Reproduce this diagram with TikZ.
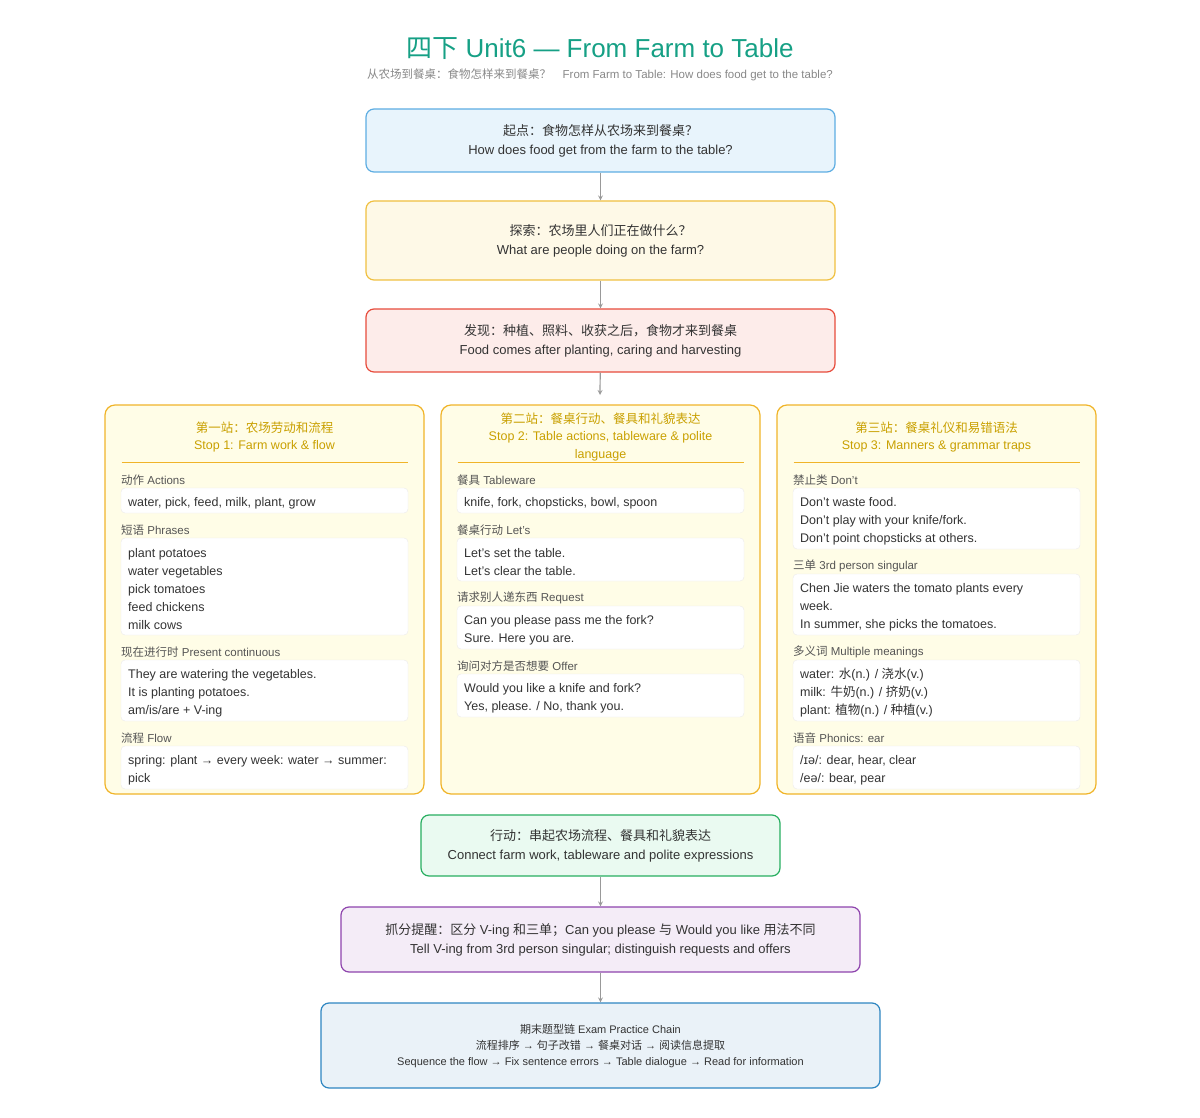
\documentclass[tikz,border=0pt]{standalone}
\usepackage{fontspec}
\setmainfont{Liberation Sans}
\newfontfamily\cjkfont{Noto Sans CJK SC}
\newcommand\zh[1]{{\cjkfont #1}}
\usetikzlibrary{positioning}
\definecolor{teal}{HTML}{16A085}
\definecolor{greytxt}{HTML}{888888}
\definecolor{inktxt}{HTML}{333333}
\definecolor{labtxt}{HTML}{555555}
\definecolor{gold}{HTML}{C9A000}
\definecolor{bluefill}{HTML}{E8F4FC}\definecolor{blueline}{HTML}{5DADE2}
\definecolor{yelfill}{HTML}{FEF9E7}\definecolor{yelline}{HTML}{F0C040}
\definecolor{redfill}{HTML}{FDECEA}\definecolor{redline}{HTML}{E74C3C}
\definecolor{colfill}{HTML}{FFFDE7}\definecolor{colline}{HTML}{F0B429}
\definecolor{grnfill}{HTML}{EAFAF1}\definecolor{grnline}{HTML}{27AE60}
\definecolor{purfill}{HTML}{F4ECF7}\definecolor{purline}{HTML}{8E44AD}
\definecolor{navfill}{HTML}{EAF2F8}\definecolor{navline}{HTML}{2E86C1}
\tikzset{
  stagebox/.style={draw=#1line, fill=#1fill, line width=1.2pt, rounded corners=8pt,
    align=center, text=inktxt, font=\fontsize{13}{19}\selectfont, inner sep=0pt},
  colbox/.style={draw=colline, fill=colfill, line width=1.2pt, rounded corners=10pt},
  whitebox/.style={draw=black!8, fill=white, rounded corners=4pt},
  sectlab/.style={anchor=west, text=labtxt, font=\fontsize{11.5}{14}\selectfont, inner sep=0pt},
  itemtxt/.style={anchor=west, align=left, text=inktxt, font=\fontsize{12.5}{18}\selectfont, inner sep=0pt},
  colhead/.style={align=center, text=gold, font=\fontsize{12.5}{17.5}\selectfont, inner sep=0pt},
  flow/.style={draw=black!40, line width=1.2pt, -stealth}
}
\begin{document}
\begin{tikzpicture}[x=1pt,y=-1pt]
	\useasboundingbox (0,0) rectangle (1200,1118);

	% Title
	\node[text=teal, font=\fontsize{26}{30}\selectfont] (title) at (600,49) {\zh{四下} Unit6 — From Farm to Table};
	\node[text=greytxt, font=\fontsize{11.5}{14}\selectfont] (subtitle) at (600,75) {\zh{从农场到餐桌：食物怎样来到餐桌？}\quad From Farm to Table: How does food get to the table?};

	% Top chain
	\node[stagebox=blue, minimum width=469pt, minimum height=63pt] (start) at (600.5,140.5)
		{\zh{起点：食物怎样从农场来到餐桌？}\\How does food get from the farm to the table?};
	\node[stagebox=yel, minimum width=469pt, minimum height=79pt] (explore) at (600.5,240.5)
		{\zh{探索：农场里人们正在做什么？}\\What are people doing on the farm?};
	\node[stagebox=red, minimum width=469pt, minimum height=63pt] (find) at (600.5,340.5)
		{\zh{发现：种植、照料、收获之后，食物才来到餐桌}\\Food comes after planting, caring and harvesting};
	\draw[flow] (start) -- (explore);
	\draw[flow] (explore) -- (find);

	% Three stops
	\node[colbox, minimum width=319pt, minimum height=389pt] (stopA) at (264.5,599.5) {};
	\node[colbox, minimum width=319pt, minimum height=389pt] (stopB) at (600.5,599.5) {};
	\node[colbox, minimum width=319pt, minimum height=389pt] (stopC) at (936.5,599.5) {};
	\draw[flow] (find) -- (600,395);

	\node[colhead] (headA) at (264.5,437) {\zh{第一站：农场劳动和流程}\\Stop 1: Farm work \& flow};
	\node[colhead] (headB) at (600.5,437) {\zh{第二站：餐桌行动、餐具和礼貌表达}\\Stop 2: Table actions, tableware \& polite\\language};
	\node[colhead] (headC) at (936.5,437) {\zh{第三站：餐桌礼仪和易错语法}\\Stop 3: Manners \& grammar traps};
	\foreach \cx in {264.5,600.5,936.5}
		\draw[colline] (\cx-143,462) -- (\cx+143,462);

	% Stop 1
	\node[sectlab] (labA1) at (121,480) {\zh{动作} Actions};
	\node[whitebox, minimum width=287pt, minimum height=25pt] (boxA1) at (264.5,500.5) {};
	\node[itemtxt] (txtA1) at (128,503) {water, pick, feed, milk, plant, grow};
	\node[sectlab] (labA2) at (121,530) {\zh{短语} Phrases};
	\node[whitebox, minimum width=287pt, minimum height=97pt] (boxA2) at (264.5,586.5) {};
	\node[itemtxt] (txtA2) at (128,589) {plant potatoes\\water vegetables\\pick tomatoes\\feed chickens\\milk cows};
	\node[sectlab] (labA3) at (121,652) {\zh{现在进行时} Present continuous};
	\node[whitebox, minimum width=287pt, minimum height=61pt] (boxA3) at (264.5,690.5) {};
	\node[itemtxt] (txtA3) at (128,693) {They are watering the vegetables.\\It is planting potatoes.\\am/is/are + V-ing};
	\node[sectlab] (labA4) at (121,738) {\zh{流程} Flow};
	\node[whitebox, minimum width=287pt, minimum height=43pt] (boxA4) at (264.5,767.5) {};
	\node[itemtxt] (txtA4) at (128,770) {spring: plant → every week: water → summer:\\pick};

	% Stop 2
	\node[sectlab] (labB1) at (457,480) {\zh{餐具} Tableware};
	\node[whitebox, minimum width=287pt, minimum height=25pt] (boxB1) at (600.5,500.5) {};
	\node[itemtxt] (txtB1) at (464,503) {knife, fork, chopsticks, bowl, spoon};
	\node[sectlab] (labB2) at (457,530) {\zh{餐桌行动} Let's};
	\node[whitebox, minimum width=287pt, minimum height=43pt] (boxB2) at (600.5,559.5) {};
	\node[itemtxt] (txtB2) at (464,562) {Let's set the table.\\Let's clear the table.};
	\node[sectlab] (labB3) at (457,598) {\zh{请求别人递东西} Request};
	\node[whitebox, minimum width=287pt, minimum height=43pt] (boxB3) at (600.5,627.5) {};
	\node[itemtxt] (txtB3) at (464,630) {Can you please pass me the fork?\\Sure. Here you are.};
	\node[sectlab] (labB4) at (457,666) {\zh{询问对方是否想要} Offer};
	\node[whitebox, minimum width=287pt, minimum height=43pt] (boxB4) at (600.5,695.5) {};
	\node[itemtxt] (txtB4) at (464,698) {Would you like a knife and fork?\\Yes, please. / No, thank you.};

	% Stop 3
	\node[sectlab] (labC1) at (793,480) {\zh{禁止类} Don't};
	\node[whitebox, minimum width=287pt, minimum height=61pt] (boxC1) at (936.5,518.5) {};
	\node[itemtxt] (txtC1) at (800,521) {Don't waste food.\\Don't play with your knife/fork.\\Don't point chopsticks at others.};
	\node[sectlab] (labC2) at (793,566) {\zh{三单} 3rd person singular};
	\node[whitebox, minimum width=287pt, minimum height=61pt] (boxC2) at (936.5,604.5) {};
	\node[itemtxt] (txtC2) at (800,607) {Chen Jie waters the tomato plants every\\week.\\In summer, she picks the tomatoes.};
	\node[sectlab] (labC3) at (793,652) {\zh{多义词} Multiple meanings};
	\node[whitebox, minimum width=287pt, minimum height=61pt] (boxC3) at (936.5,690.5) {};
	\node[itemtxt] (txtC3) at (800,693) {water: \zh{水}(n.) / \zh{浇水}(v.)\\milk: \zh{牛奶}(n.) / \zh{挤奶}(v.)\\plant: \zh{植物}(n.) / \zh{种植}(v.)};
	\node[sectlab] (labC4) at (793,738) {\zh{语音} Phonics: ear};
	\node[whitebox, minimum width=287pt, minimum height=43pt] (boxC4) at (936.5,767.5) {};
	\node[itemtxt] (txtC4) at (800,770) {/ɪə/: dear, hear, clear\\/eə/: bear, pear};

	% Bottom chain
	\node[stagebox=grn, minimum width=359pt, minimum height=61pt] (act) at (600.5,845.5)
		{\zh{行动：串起农场流程、餐具和礼貌表达}\\Connect farm work, tableware and polite expressions};
	\node[stagebox=pur, minimum width=519pt, minimum height=65pt] (tip) at (600.5,939.5)
		{\zh{抓分提醒：区分} V-ing \zh{和三单；}Can you please \zh{与} Would you like \zh{用法不同}\\Tell V-ing from 3rd person singular; distinguish requests and offers};
	\node[stagebox=nav, minimum width=559pt, minimum height=85pt, font=\fontsize{11}{16}\selectfont] (exam) at (600.5,1045.5)
		{\zh{期末题型链} Exam Practice Chain\\\zh{流程排序} → \zh{句子改错} → \zh{餐桌对话} → \zh{阅读信息提取}\\Sequence the flow → Fix sentence errors → Table dialogue → Read for information};
	\draw[flow] (act) -- (tip);
	\draw[flow] (tip) -- (exam);
\end{tikzpicture}
\end{document}
